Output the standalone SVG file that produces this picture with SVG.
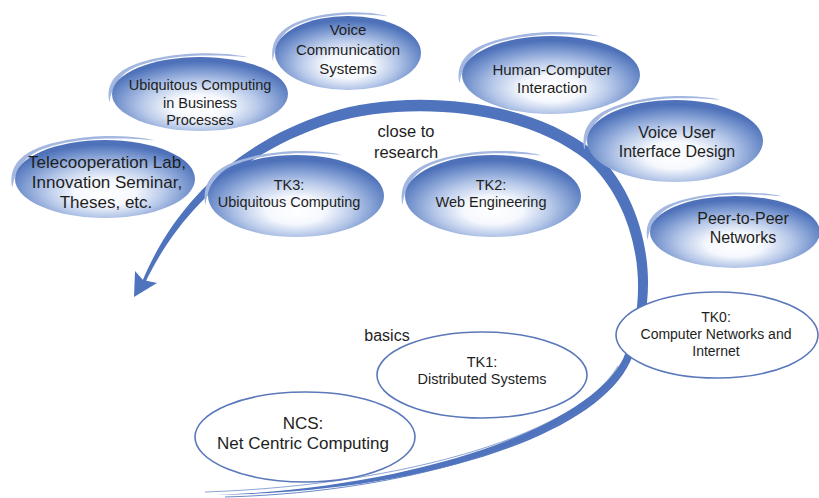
<svg xmlns="http://www.w3.org/2000/svg" width="819" height="498" viewBox="0 0 819 498">
<defs>
  <radialGradient id="blueGrad" cx="50%" cy="62%" r="56%" fx="50%" fy="70%">
    <stop offset="0" stop-color="#ffffff"/>
    <stop offset="0.3" stop-color="#f5f8fd"/>
    <stop offset="0.6" stop-color="#b4c6e8"/>
    <stop offset="0.85" stop-color="#7291cc"/>
    <stop offset="1" stop-color="#4e71b9"/>
  </radialGradient>
  <path id="swoosh" d="M-1.03,0.22 C-1.07,-0.22 -0.98,-0.56 -0.77,-0.77 C-0.58,-0.96 -0.25,-1.11 0.1,-1.1 C0.3,-1.09 0.45,-1.05 0.55,-0.99 C0.42,-1.02 0.28,-1.04 0.1,-1.04 C-0.23,-1.05 -0.55,-0.91 -0.73,-0.73 C-0.91,-0.55 -1.0,-0.2 -1.03,0.22 Z"/>
</defs>
<style>
  .fill { fill: url(#blueGrad); stroke: none; }
  .plain { fill: #ffffff; stroke: #5a78ba; stroke-width: 1.6; }
  .sw { fill: #a3b7e0; }
  text { font-family: "Liberation Sans", Arial, sans-serif; fill: #1e1e1e; text-anchor: middle; }
  .band { fill: #4f73bd; }
  .thin { fill: none; stroke: #5a7cc2; }
</style>
<rect width="819" height="498" fill="#ffffff"/>

<g id="connectors">
  <path class="band" d="M142,282 C170,214 228,145 328,113 C398,90 522,94 594,151 C645,197 666,290 630,362 C595,436 425,492 215,495 C415,488 588,428 623,359 C654,290 635,203 586,160 C518,106 402,102 332,123 C233,155 176,218 145,283 Z"/>
  <path fill="none" stroke="#ffffff" stroke-opacity="0.55" stroke-width="1.2" d="M575,160 C620,200 642,270 628,330"/>
  <path class="thin" stroke-width="0.9" d="M627,362 C592,434 420,492 225,497"/>
  <path class="thin" stroke-width="0.7" d="M618,366 C580,432 410,485 205,492"/>
  <path class="band" d="M134,297 L135,271 L143,280 L157,283 Z"/>
</g>

<g id="vcs">
  <use href="#swoosh" class="sw" transform="translate(348,53) scale(73,37)"/>
  <ellipse class="fill" cx="348" cy="53" rx="73" ry="37"/>
  <text font-size="15"><tspan x="348" y="35">Voice</tspan><tspan x="348" y="55">Communication</tspan><tspan x="348" y="74">Systems</tspan></text>
</g>

<g id="ucbp">
  <use href="#swoosh" class="sw" transform="translate(200,94) scale(88,37)"/>
  <ellipse class="fill" cx="200" cy="94" rx="88" ry="37"/>
  <text font-size="14.5"><tspan x="200" y="90">Ubiquitous Computing</tspan><tspan x="200" y="108">in Business</tspan><tspan x="200" y="125">Processes</tspan></text>
</g>

<g id="tlab">
  <use href="#swoosh" class="sw" transform="translate(105,179) scale(90,39)"/>
  <ellipse class="fill" cx="105" cy="179" rx="90" ry="39"/>
  <text font-size="17"><tspan x="107" y="168">Telecooperation Lab,</tspan><tspan x="107" y="188">Innovation Seminar,</tspan><tspan x="106" y="208">Theses, etc.</tspan></text>
</g>

<g id="tk3">
  <use href="#swoosh" class="sw" transform="translate(296,196) scale(88,41)"/>
  <ellipse class="fill" cx="296" cy="196" rx="88" ry="41"/>
  <text font-size="14.5"><tspan x="289" y="190">TK3:</tspan><tspan x="289" y="207">Ubiquitous Computing</tspan></text>
</g>

<g id="tk2">
  <use href="#swoosh" class="sw" transform="translate(493,196) scale(88,41)"/>
  <ellipse class="fill" cx="493" cy="196" rx="88" ry="41"/>
  <text font-size="14.5"><tspan x="491" y="190">TK2:</tspan><tspan x="491" y="207">Web Engineering</tspan></text>
</g>

<g id="hci">
  <use href="#swoosh" class="sw" transform="translate(551,75) scale(89,39)"/>
  <ellipse class="fill" cx="551" cy="75" rx="89" ry="39"/>
  <text font-size="15"><tspan x="552" y="75">Human-Computer</tspan><tspan x="552" y="93">Interaction</tspan></text>
</g>

<g id="vuid">
  <use href="#swoosh" class="sw" transform="translate(675,141) scale(88,41)"/>
  <ellipse class="fill" cx="675" cy="141" rx="88" ry="41"/>
  <text font-size="16"><tspan x="677" y="138">Voice User</tspan><tspan x="677" y="157">Interface Design</tspan></text>
</g>

<g id="p2p">
  <use href="#swoosh" class="sw" transform="translate(735,232) scale(85,36)"/>
  <ellipse class="fill" cx="735" cy="232" rx="85" ry="36"/>
  <text font-size="16"><tspan x="743" y="224">Peer-to-Peer</tspan><tspan x="743" y="243">Networks</tspan></text>
</g>

<g id="tk0">
  <ellipse class="plain" cx="717" cy="335" rx="101" ry="43"/>
  <text font-size="14"><tspan x="716" y="322">TK0:</tspan><tspan x="716" y="339">Computer Networks and</tspan><tspan x="716" y="356">Internet</tspan></text>
</g>

<g id="tk1">
  <ellipse class="plain" cx="482" cy="375" rx="105" ry="43"/>
  <text font-size="14.5"><tspan x="482" y="367">TK1:</tspan><tspan x="482" y="384">Distributed Systems</tspan></text>
</g>

<g id="ncs">
  <ellipse class="plain" cx="305" cy="437" rx="110" ry="45"/>
  <text font-size="17"><tspan x="303" y="429">NCS:</tspan><tspan x="303" y="449">Net Centric Computing</tspan></text>
</g>

<g id="labels">
  <text font-size="16.5"><tspan x="406" y="137">close to</tspan><tspan x="406" y="158">research</tspan></text>
  <text font-size="16" x="387" y="341">basics</text>
</g>
</svg>
